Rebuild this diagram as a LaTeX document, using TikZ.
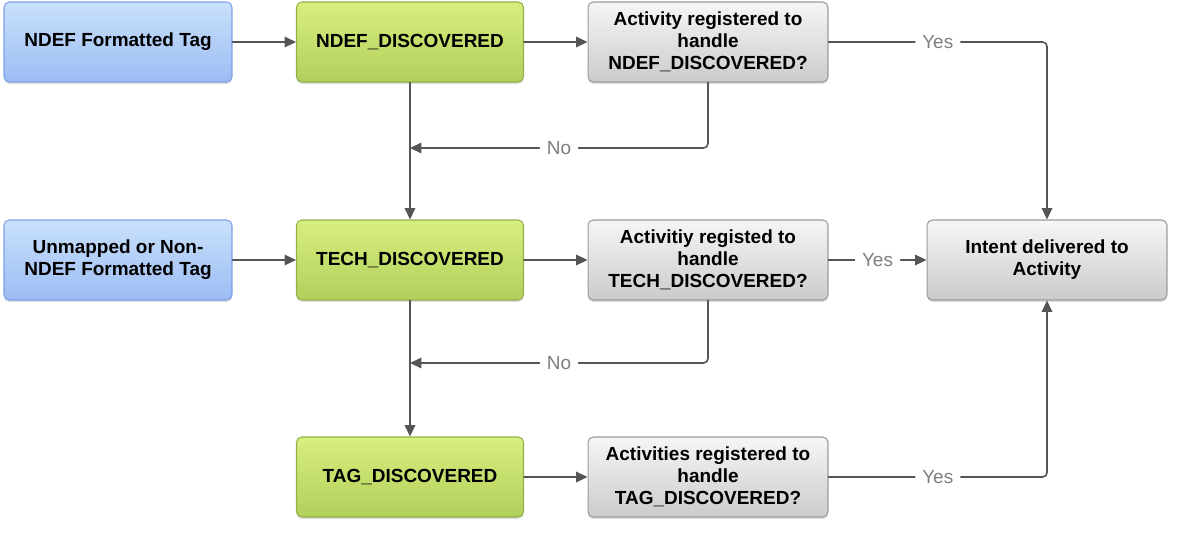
\documentclass[tikz,border=0pt]{standalone}
\usepackage{fontspec}
\setmainfont{Liberation Sans}
\usetikzlibrary{arrows.meta}
\usetikzlibrary{shadows}
\definecolor{tagbluetop}{HTML}{C9E1FB}
\definecolor{tagbluebot}{HTML}{9CBCF4}
\definecolor{tagblueline}{HTML}{7E9FE9}
\definecolor{discgreentop}{HTML}{D7EF7E}
\definecolor{discgreenbot}{HTML}{B3CF5B}
\definecolor{discgreenline}{HTML}{93B148}
\definecolor{asktop}{HTML}{F6F6F6}
\definecolor{askbot}{HTML}{CBCBCB}
\definecolor{askline}{HTML}{9B9B9B}
\definecolor{flowgray}{HTML}{555555}
\definecolor{answergray}{HTML}{7F7F7F}

\begin{document}
\begin{tikzpicture}[x=0.02cm,y=-0.02cm,line cap=round,line join=round,
    box/.style={rounded corners=3pt,line width=.6pt,minimum height=1.6cm,align=center,
        font=\fontsize{10.8}{12.5}\selectfont\bfseries,
        drop shadow={opacity=.25,shadow xshift=0pt,shadow yshift=-1.2pt}},
    tagbox/.style={box,draw=tagblueline,top color=tagbluetop,bottom color=tagbluebot,minimum width=4.56cm},
    discbox/.style={box,draw=discgreenline,top color=discgreentop,bottom color=discgreenbot,minimum width=4.54cm},
    askbox/.style={box,draw=askline,top color=asktop,bottom color=askbot,minimum width=4.8cm},
    flow/.style={draw=flowgray,line width=.9pt,rounded corners=2.5pt,-{Triangle[width=6pt,length=6.5pt]}},
    answer/.style={fill=white,text=answergray,inner sep=4pt,font=\fontsize{10.8}{12.5}\selectfont}]
    \def\colA{118}
    \def\colB{410}
    \def\colC{708}
    \def\colD{1047}
    \useasboundingbox (0,0) rectangle (1180,532);
    % tags
    \node[tagbox] (ndeftag) at (\colA,42) {NDEF Formatted Tag};
    \node[tagbox] (techtag) at (\colA,260) {Unmapped or Non-\\NDEF Formatted Tag};
    % intents
    \node[discbox] (ndef) at (\colB,42) {NDEF\_DISCOVERED};
    \node[discbox] (tech) at (\colB,260) {TECH\_DISCOVERED};
    \node[discbox] (tag) at (\colB,477) {TAG\_DISCOVERED};
    % questions
    \node[askbox] (askndef) at (\colC,42) {Activity registered to\\handle\\NDEF\_DISCOVERED?};
    \node[askbox] (asktech) at (\colC,260) {Activitiy registed to\\handle\\TECH\_DISCOVERED?};
    \node[askbox] (asktag) at (\colC,477) {Activities registered to\\handle\\TAG\_DISCOVERED?};
    \node[askbox] (deliver) at (\colD,260) {Intent delivered to\\Activity};
    % flow
    \coordinate (nondef) at (\colB,148);
    \coordinate (notech) at (\colB,363);
    \draw[flow] (ndeftag) -- (ndef);
    \draw[flow] (techtag) -- (tech);
    \draw[flow] (ndef) -- (askndef);
    \draw[flow] (tech) -- (asktech);
    \draw[flow] (tag) -- (asktag);
    \draw[flow] (ndef) -- (tech);
    \draw[flow] (tech) -- (tag);
    \draw[flow] (askndef.south) |- (nondef) node[answer,pos=.75] {No};
    \draw[flow] (asktech.south) |- (notech) node[answer,pos=.75] {No};
    \draw[flow] (askndef.east) -| (deliver.north) node[answer,pos=.25] {Yes};
    \draw[flow] (asktech) -- (deliver) node[answer,midway] {Yes};
    \draw[flow] (asktag.east) -| (deliver.south) node[answer,pos=.25] {Yes};
\end{tikzpicture}
\end{document}
